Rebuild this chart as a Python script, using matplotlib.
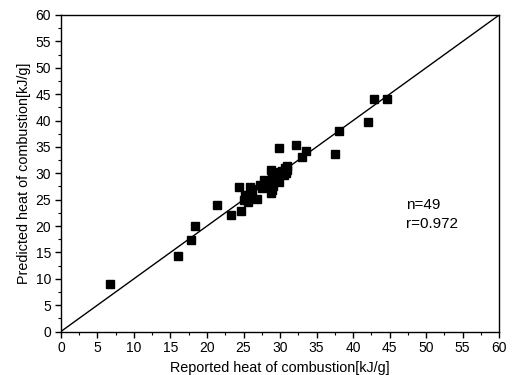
import matplotlib
matplotlib.use("Agg")
import matplotlib.pyplot as plt
from matplotlib.ticker import MultipleLocator

plt.rcParams['font.family'] = ['Liberation Sans', 'DejaVu Sans']

reported = [6.7, 16.0, 17.8, 18.3, 21.3, 23.3, 24.7, 24.4, 25.9, 25.4,
            25.0, 25.9, 26.8, 27.5, 28.2, 28.8, 28.9, 28.7, 29.8, 29.9,
            30.0, 30.7, 31.0, 30.5, 32.2, 33.0, 33.6, 37.5, 38.1, 42.1,
            42.8, 44.7, 27.8, 28.5, 25.6, 26.2, 27.9, 29.2, 29.6, 30.3,
            31.0, 28.9, 26.0, 29.4, 30.8, 27.2, 29.0, 25.2, 30.2]
predicted = [9.0, 14.3, 17.4, 20.0, 23.9, 22.0, 22.9, 27.4, 27.4, 25.5,
             25.0, 26.1, 25.1, 27.2, 28.4, 30.7, 26.9, 26.2, 34.8, 28.4,
             30.3, 31.0, 31.4, 29.7, 35.4, 33.1, 34.3, 33.6, 38.0, 39.8,
             44.0, 44.0, 28.8, 28.0, 24.6, 25.8, 28.2, 29.3, 29.0, 30.5,
             30.6, 29.5, 27.0, 30.1, 30.0, 27.8, 27.6, 25.9, 29.8]
diag = [0, 60]
n_text = "n=49"
r_text = "r=0.972"

fig = plt.figure(figsize=(5.12, 3.75), dpi=100)
ax = fig.add_axes([0.119, 0.116, 0.856, 0.844])
ax.plot(diag, diag, color='black', lw=1.0)
ax.plot(reported, predicted, 's', color='black', markersize=5.5, linestyle='none')
ax.set_xlim(0, 60)
ax.set_ylim(0, 60)
ax.xaxis.set_major_locator(MultipleLocator(5))
ax.yaxis.set_major_locator(MultipleLocator(5))
ax.xaxis.set_minor_locator(MultipleLocator(2.5))
ax.yaxis.set_minor_locator(MultipleLocator(2.5))
ax.tick_params(which='major', direction='out', length=4.5, width=1, labelsize=10, pad=2.5)
ax.tick_params(which='minor', direction='out', length=2.5, width=0.8)
for s in ax.spines.values():
    s.set_linewidth(1.0)
ax.set_xlabel("Reported heat of combustion[kJ/g]", fontsize=10.4, labelpad=4)
ax.set_ylabel("Predicted heat of combustion[kJ/g]", fontsize=10.4, labelpad=3)
ax.text(47.3, 24.0, n_text, fontsize=11, va='center', ha='left')
ax.text(47.3, 20.4, r_text, fontsize=11, va='center', ha='left')
fig.savefig("out.png", dpi=100)
